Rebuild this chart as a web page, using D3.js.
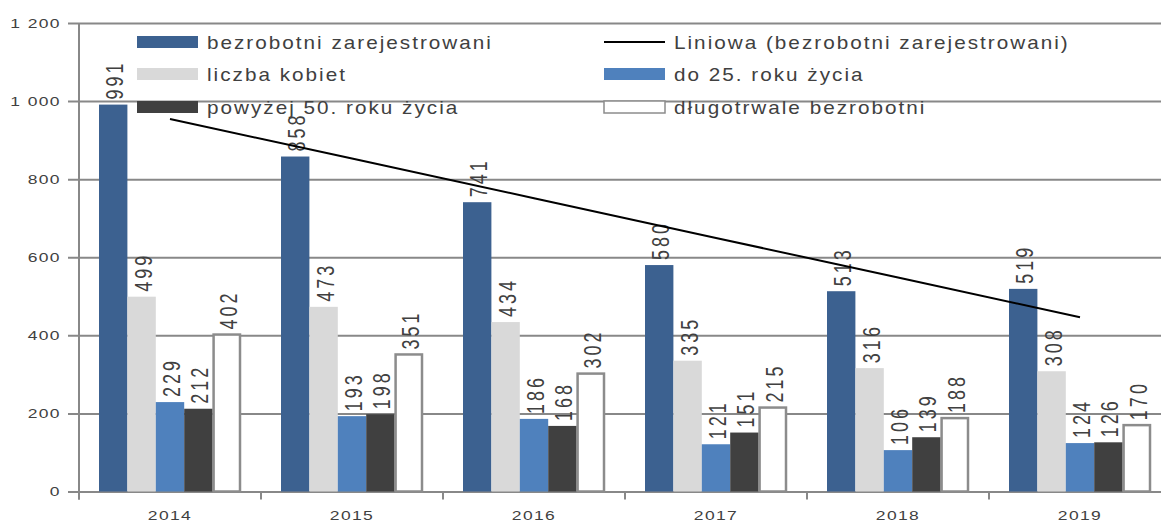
<!DOCTYPE html>
<html>
<head>
<meta charset="utf-8">
<script src="https://cdn.jsdelivr.net/npm/d3@7"></script>
<style>
  body { margin: 0; background: #fff; }
  svg text { font-family: "Liberation Sans", Arial, sans-serif; fill: #404040; }
</style>
</head>
<body>
<div id="chart"></div>
<script>
const years = ["2014", "2015", "2016", "2017", "2018", "2019"];
const seriesNames = [
  "bezrobotni zarejestrowani",
  "liczba kobiet",
  "do 25. roku życia",
  "powyżej 50. roku życia",
  "długotrwale bezrobotni"
];
const bezrobotni = [991, 858, 741, 580, 513, 519];
const kobiety = [499, 473, 434, 335, 316, 308];
const do25 = [229, 193, 186, 121, 106, 124];
const powyzej50 = [212, 198, 168, 151, 139, 126];
const dlugotrwale = [402, 351, 302, 215, 188, 170];
const yTicks = [0, 200, 400, 600, 800, 1000, 1200];
const trendName = "Liniowa (bezrobotni zarejestrowani)";

const seriesValues = [bezrobotni, kobiety, do25, powyzej50, dlugotrwale];
const colors = ["#3C6190", "#D9D9D9", "#4F81BD", "#404040", "#FFFFFF"];
const strokes = ["none", "none", "none", "none", "#8C8C8C"];

const width = 1161, height = 521;
const margin = { left: 79, top: 23, bottom: 29.5 };
const groupWidth = 182;

const svg = d3.select("#chart").append("svg")
  .attr("width", width)
  .attr("height", height);

const x0 = d3.scaleBand()
  .domain(years)
  .range([margin.left, margin.left + groupWidth * years.length]);
const x1 = d3.scaleBand()
  .domain(seriesNames)
  .range([20, groupWidth - 20]);
const y = d3.scaleLinear()
  .domain([0, 1200])
  .range([height - margin.bottom, margin.top]);

const fmt = d3.formatLocale({ decimal: ",", thousands: " ", grouping: [3], currency: ["", ""] }).format(",d");

// grid + y axis
const yAxis = d3.axisLeft(y).tickValues(yTicks).tickSize(-(width - margin.left + 20)).tickFormat("");
const gy = svg.append("g")
  .attr("transform", `translate(${margin.left},0)`)
  .call(yAxis);
gy.select(".domain").remove();
gy.selectAll(".tick line").attr("stroke", "#888").attr("stroke-width", 2).attr("x1", -11);

svg.append("line")
  .attr("x1", margin.left).attr("x2", margin.left)
  .attr("y1", y(1200)).attr("y2", y(0) + 8)
  .attr("stroke", "#888").attr("stroke-width", 2);

svg.append("g").selectAll("text")
  .data(yTicks)
  .join("text")
  .attr("transform", d => `translate(61,${y(d) + 4.5}) scale(1.4,1)`)
  .attr("text-anchor", "end")
  .attr("font-size", 12.5)
  .attr("letter-spacing", 1)
  .text(d => fmt(d));

// x axis ticks
const xAxis = d3.axisBottom(x0).tickSize(0).tickFormat("");
const gx = svg.append("g")
  .attr("transform", `translate(0,${y(0)})`)
  .call(xAxis);
gx.select(".domain").remove();
gx.selectAll(".tick").remove();
gx.selectAll("line.sep")
  .data(years)
  .join("line")
  .attr("class", "sep")
  .attr("x1", d => x0(d)).attr("x2", d => x0(d))
  .attr("y1", 0).attr("y2", 8)
  .attr("stroke", "#888").attr("stroke-width", 2);

svg.append("g").selectAll("text")
  .data(years)
  .join("text")
  .attr("transform", d => `translate(${x0(d) + x0.bandwidth() / 2},${y(0) + 28}) scale(1.4,1)`)
  .attr("text-anchor", "middle")
  .attr("font-size", 12.5)
  .attr("letter-spacing", 1)
  .text(d => d);

// bars
const groups = svg.append("g").selectAll("g")
  .data(years)
  .join("g")
  .attr("transform", d => `translate(${x0(d)},0)`);

groups.selectAll("rect")
  .data((d, i) => seriesNames.map((s, k) => ({ s, k, v: seriesValues[k][i] })))
  .join("rect")
  .attr("x", d => x1(d.s) + (d.k === 4 ? 1 : 0))
  .attr("y", d => y(d.v))
  .attr("width", d => x1.bandwidth() - (d.k === 4 ? 2 : 0))
  .attr("height", d => y(0) - y(d.v))
  .attr("fill", d => colors[d.k])
  .attr("stroke", d => strokes[d.k])
  .attr("stroke-width", 2.5);

// trend line (linear least squares over bezrobotni)
const n = bezrobotni.length;
const xs = d3.range(1, n + 1);
const mx = d3.mean(xs), my = d3.mean(bezrobotni);
const slope = d3.sum(xs, (xv, i) => (xv - mx) * (bezrobotni[i] - my)) / d3.sum(xs, xv => (xv - mx) ** 2);
const trend = xs.map(xv => my + slope * (xv - mx));

svg.append("path")
  .datum(trend)
  .attr("fill", "none")
  .attr("stroke", "#000")
  .attr("stroke-width", 2)
  .attr("d", d3.line()
    .x((d, i) => x0(years[i]) + x0.bandwidth() / 2)
    .y(d => y(d)));

// value labels
groups.selectAll("text.lbl")
  .data((d, i) => seriesNames.map((s, k) => ({ s, k, v: seriesValues[k][i] })))
  .join("text")
  .attr("class", "lbl")
  .attr("transform", d => `translate(${x1(d.s) + x1.bandwidth() / 2 + 10},${y(d.v) - 5}) scale(1.3,1) rotate(-90)`)
  .attr("font-size", 18)
  .attr("letter-spacing", 3)
  .text(d => d.v);

// legend
const legendItems = [
  { name: seriesNames[0], k: 0, col: 0, row: 0 },
  { name: trendName, k: -1, col: 1, row: 0 },
  { name: seriesNames[1], k: 1, col: 0, row: 1 },
  { name: seriesNames[2], k: 2, col: 1, row: 1 },
  { name: seriesNames[3], k: 3, col: 0, row: 2 },
  { name: seriesNames[4], k: 4, col: 1, row: 2 }
];
const legendX = [137, 604];
const legendY = [42, 74, 107];

const li = svg.append("g").selectAll("g")
  .data(legendItems)
  .join("g")
  .attr("transform", d => `translate(${legendX[d.col]},${legendY[d.row]})`);

li.filter(d => d.k >= 0).append("rect")
  .attr("x", 0).attr("y", -6)
  .attr("width", 61).attr("height", 12)
  .attr("fill", d => colors[d.k])
  .attr("stroke", d => d.k === 4 ? "#8C8C8C" : "none")
  .attr("stroke-width", 1.5);

li.filter(d => d.k < 0).append("line")
  .attr("x1", 0).attr("x2", 61)
  .attr("y1", 0).attr("y2", 0)
  .attr("stroke", "#000").attr("stroke-width", 2);

li.append("text")
  .attr("transform", "translate(70,6.5) scale(1.15,1)")
  .attr("font-size", 18)
  .attr("letter-spacing", 1.75)
  .text(d => d.name);
</script>
</body>
</html>
